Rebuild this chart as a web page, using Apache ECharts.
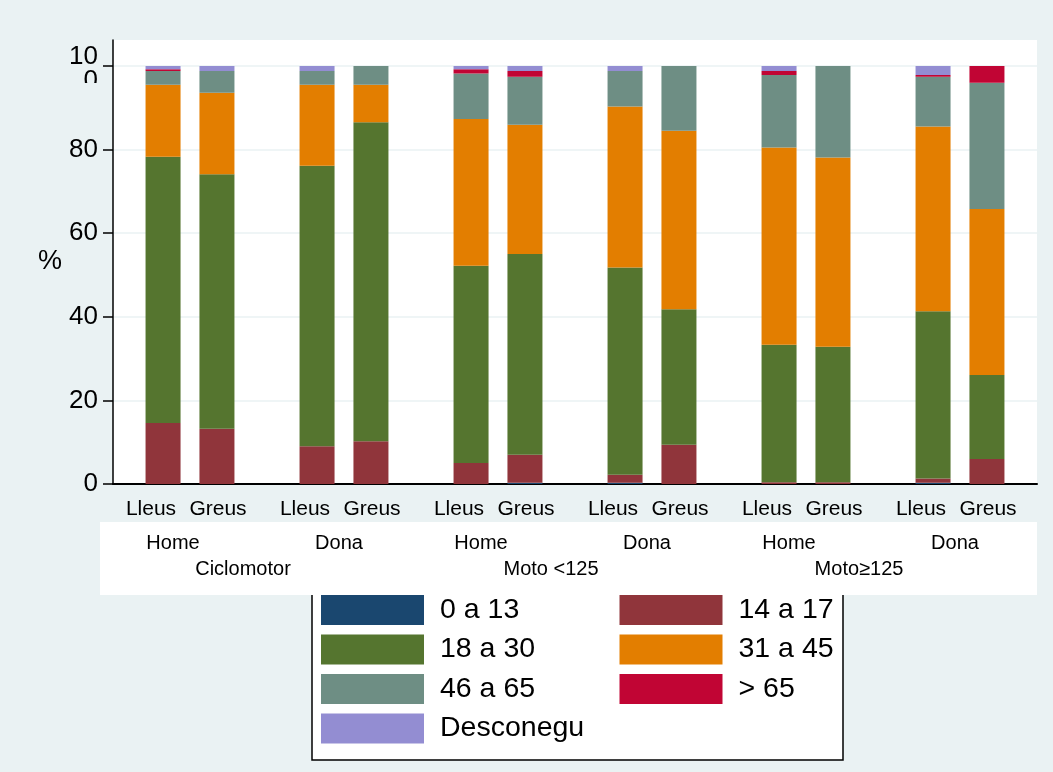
<!DOCTYPE html>
<html>
<head>
<meta charset="utf-8">
<script src="https://cdn.jsdelivr.net/npm/echarts@6/dist/echarts.min.js"></script>
<style>
html,body{margin:0;padding:0;background:#EAF2F3;}
#chart{width:1053px;height:772px;}
</style>
</head>
<body>
<div id="chart"></div>
<script>
// ---- data ----
const vehicles = ['Ciclomotor', 'Moto <125', 'Moto\u2265125'];
const sexes = ['Home', 'Dona', 'Home', 'Dona', 'Home', 'Dona'];
const severities = ['Lleus', 'Greus'];
const ageGroups = ['0 a 13', '14 a 17', '18 a 30', '31 a 45', '46 a 65', '> 65', 'Desconegu'];
const yTicks = [0, 20, 40, 60, 80, 100];
const yMax = 106.2;

// percentages, one value per (vehicle, sex) pair, for "Lleus"
const lleus_0_13   = [0, 0, 0, 0.3, 0, 0.3];
const lleus_14_17  = [14.6, 9.0, 5.0, 1.9, 0.4, 1.0];
const lleus_18_30  = [63.7, 67.1, 47.2, 49.6, 32.9, 40.0];
const lleus_31_45  = [17.2, 19.4, 35.1, 38.5, 47.2, 44.2];
const lleus_46_65  = [3.3, 3.3, 10.9, 8.5, 17.3, 11.9];
const lleus_65     = [0.4, 0, 1.0, 0, 1.0, 0.4];
const lleus_desc   = [0.8, 1.2, 0.8, 1.2, 1.2, 2.2];

// for "Greus"
const greus_0_13   = [0, 0, 0.3, 0, 0, 0];
const greus_14_17  = [13.2, 10.2, 6.7, 9.4, 0.4, 6.0];
const greus_18_30  = [60.9, 76.3, 48.0, 32.4, 32.4, 20.1];
const greus_31_45  = [19.5, 9.0, 30.9, 42.7, 45.3, 39.7];
const greus_46_65  = [5.2, 4.5, 11.5, 15.5, 21.9, 30.2];
const greus_65     = [0, 0, 1.4, 0, 0, 4.0];
const greus_desc   = [1.2, 0, 1.2, 0, 0, 0];

const lleusData = [lleus_0_13, lleus_14_17, lleus_18_30, lleus_31_45, lleus_46_65, lleus_65, lleus_desc];
const greusData = [greus_0_13, greus_14_17, greus_18_30, greus_31_45, greus_46_65, greus_65, greus_desc];

const colors = ['#1A476F', '#90353B', '#55752F', '#E37E00', '#6E8E84', '#C10534', '#938DD2'];
const FONT = 'Liberation Sans, Arial, Helvetica, sans-serif';
const BG = '#EAF2F3';

const series = [];
[lleusData, greusData].forEach((set, si) => {
  set.forEach((vals, i) => {
    series.push({
      name: ageGroups[i],
      type: 'bar',
      stack: severities[si],
      xAxisIndex: 0,
      yAxisIndex: 0,
      barWidth: 35,
      barGap: '54%',
      data: vals,
      itemStyle: { color: colors[i] },
      emphasis: { disabled: true }
    });
  });
});

const chart = echarts.init(document.getElementById('chart'), null, { renderer: 'canvas' });
chart.setOption({
  animation: false,
  backgroundColor: BG,
  textStyle: { fontFamily: FONT },
  grid: {
    left: 113, right: 16, top: 40, bottom: 288,
    show: true, backgroundColor: '#ffffff', borderWidth: 0
  },
  legend: {
    data: ageGroups,
    left: 321, top: 595, width: 600, padding: 0,
    orient: 'horizontal',
    icon: 'rect',
    itemWidth: 103, itemHeight: 30, itemGap: 9.5,
    selectedMode: false,
    textStyle: { fontSize: 28.5, color: '#000', width: 170, padding: [0, 0, 0, 11], lineHeight: 30, fontFamily: FONT }
  },
  xAxis: [
    {
      type: 'category', data: sexes.map((s, i) => vehicles[Math.floor(i / 2)] + ' ' + s + ' ' + i),
      position: 'bottom',
      axisLine: { show: true, lineStyle: { color: '#000', width: 2 } },
      axisTick: { show: false },
      axisLabel: {
        interval: 0, margin: 13,
        formatter: () => '{l|' + severities[0] + '}{g|' + severities[1] + '}',
        rich: {
          l: { width: 56, align: 'center', fontSize: 21, lineHeight: 24, color: '#000', fontFamily: FONT },
          g: { width: 78, align: 'center', fontSize: 21, lineHeight: 24, color: '#000', fontFamily: FONT }
        }
      },
      splitLine: { show: false }
    },
    {
      type: 'category', data: sexes.map((s, i) => s + ' ' + i),
      position: 'bottom', gridIndex: 0,
      axisLine: { show: false }, axisTick: { show: false }, splitLine: { show: false },
      axisLabel: {
        interval: 0, margin: 47,
        formatter: (v, i) => (i % 2 === 0 ? '{h|' : '{d|') + sexes[i] + '}',
        rich: {
          h: { padding: [0, 34, 0, 0], fontSize: 20, lineHeight: 24, color: '#000', fontFamily: FONT },
          d: { padding: [0, 10, 0, 0], fontSize: 20, lineHeight: 24, color: '#000', fontFamily: FONT }
        }
      }
    },
    {
      type: 'category', data: vehicles,
      position: 'bottom', gridIndex: 0,
      axisLine: { show: false }, axisTick: { show: false }, splitLine: { show: false },
      axisLabel: {
        interval: 0, margin: 73,
        formatter: (v) => '{v|' + v + '}',
        rich: {
          v: { padding: [0, 48, 0, 0], fontSize: 20, lineHeight: 24, color: '#000', fontFamily: FONT }
        }
      }
    }
  ],
  yAxis: {
    type: 'value', min: 0, max: yMax, interval: 20,
    name: '%', nameLocation: 'middle', nameGap: 51, nameRotate: 0,
    nameTextStyle: { fontSize: 27, color: '#000', padding: [0, 0, 25, 0], fontFamily: FONT },
    axisLine: { show: true, lineStyle: { color: '#000', width: 1.5 } },
    axisTick: { show: true, length: 10, customValues: yTicks, lineStyle: { color: '#000', width: 1.5 } },
    axisLabel: {
      customValues: yTicks, margin: 15, fontSize: 26, color: '#000',
      formatter: (v) => v === 100 ? '{a|10}\n{b|0}' : String(v),
      rich: {
        a: { fontSize: 26, lineHeight: 30, color: '#000', fontFamily: FONT },
        b: { fontSize: 26, lineHeight: 18, color: '#000', fontFamily: FONT }
      }
    },
    splitLine: { show: true, lineStyle: { color: BG, width: 1.5 } }
  },
  graphic: [
    { type: 'rect', z: -2, shape: { x: 312, y: 585, width: 531, height: 175 },
      style: { fill: '#ffffff', stroke: '#000', lineWidth: 1.5 } },
    { type: 'rect', z: -1, shape: { x: 100, y: 522, width: 937, height: 73 },
      style: { fill: '#ffffff' } },
    { type: 'rect', z: 100, shape: { x: 55, y: 83, width: 48, height: 14 },
      style: { fill: BG } }
  ],
  series: series
});
</script>
</body>
</html>
